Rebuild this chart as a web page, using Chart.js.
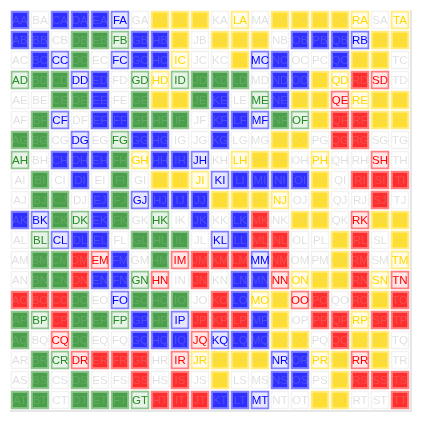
<!DOCTYPE html>
<html>
<head>
<meta charset="utf-8">
<script src="https://cdn.jsdelivr.net/npm/chart.js@4.4.0/dist/chart.umd.min.js"></script>
<style>
  body { margin: 0; background: #fff; }
  #wrap { width: 422px; height: 422px; }
</style>
</head>
<body>
<div id="wrap"><canvas id="gridChart"></canvas></div>
<script>
// columns (x) and rows (y), cell label = column + row
var cols = 'ABCDEFGHIJKLMNOPQRST'.split('');
var rows = 'ABCDEFGHIJKLMNOPQRST'.split('');

// one string per row: . empty, b/g/y/r filled, B/G/Y/R end cell
var grid = [
  'b.bbbB.yyy.Y.yyyyY.Y',
  'bb.ggGbby.yyy.bbbByy',
  '.bBg.BbbY..yBb..byy.',
  'GggBb.GYGggg.bbyYrR.',
  '..ggb.gyygb.GbyyRYyy',
  '.gB.bbggg.bbBgGyrryy',
  'gg.B.Gbb..b..yy.rr..',
  'G.bbbgYbbB.Yyy.Y..R.',
  '.g.b.g.yyYBbbbby.rrr',
  '.gg.bgBbbbyyyY.y..r.',
  'bBgGbg.G.b.br.yy.Ryy',
  '.GBbb.ggg.Bbrr..yr.y',
  '.ggrRb.gRrrrBr..yr.Y',
  '.ggrbbGR.r.bbRYyyrYR',
  'rrrg.Bggg.rbYyRr.ryr',
  'gGrggGbgBrrrby.rrYrr',
  'g.Rg..bbbRBbbyy.ryy.',
  '.gGRrrr.RYyyyBbYyRy.',
  '.g.g..r.r.y..bb.yrrr',
  'gg.gggGrrrbbB..yy..r'
];

var rgb = { b: '0,0,255', g: '34,139,34', y: '255,215,0', r: '255,0,0' };

function cellFill(s) {
  if (s === '.') return 'rgba(255,255,255,1)';
  var k = s.toLowerCase();
  return s === k ? 'rgba(' + rgb[k] + ',0.82)' : 'rgba(' + rgb[k] + ',0.1)';
}
function cellBorder(s) {
  if (s === '.') return 'rgba(0,0,0,0.05)';
  return 'rgba(' + rgb[s.toLowerCase()] + ',0.5)';
}

var labelPlugin = {
  id: 'cellLabels',
  beforeDatasetsDraw: function (chart) {
    // light frame on the right and bottom edges
    var ctx = chart.ctx, a = chart.chartArea;
    ctx.save();
    ctx.strokeStyle = '#e6e6e6';
    ctx.lineWidth = 2;
    ctx.beginPath();
    ctx.moveTo(a.right + 1, a.top);
    ctx.lineTo(a.right + 1, a.bottom + 2);
    ctx.moveTo(a.left, a.bottom + 1);
    ctx.lineTo(a.right + 2, a.bottom + 1);
    ctx.stroke();
    ctx.restore();
  },
  afterDatasetsDraw: function (chart) {
    var ctx = chart.ctx, x = chart.scales.x, y = chart.scales.y;
    ctx.save();
    ctx.font = '11.5px "Liberation Sans", Arial, sans-serif';
    ctx.textAlign = 'center';
    ctx.textBaseline = 'middle';
    rows.forEach(function (r, j) {
      cols.forEach(function (c, i) {
        var s = grid[j][i];
        if (s === '.') ctx.fillStyle = 'rgba(0,0,0,0.13)';
        else if (s === s.toLowerCase()) ctx.fillStyle = 'rgba(200,200,200,0.2)';
        else ctx.fillStyle = 'rgb(' + rgb[s.toLowerCase()] + ')';
        ctx.fillText(c + r, x.getPixelForValue(i), y.getPixelForValue(j + 0.5) + 1);
      });
    });
    ctx.restore();
  }
};

var ctxG = document.getElementById('gridChart').getContext('2d');
var myGridChart = new Chart(ctxG, {
  type: 'bar',
  data: {
    labels: cols,
    datasets: rows.map(function (r, j) {
      return {
        label: r,
        data: cols.map(function () { return [j + 0.025, j + 0.975]; }),
        backgroundColor: cols.map(function (c, i) { return cellFill(grid[j][i]); }),
        borderColor: cols.map(function (c, i) { return cellBorder(grid[j][i]); }),
        borderWidth: 2,
        borderSkipped: false,
        inflateAmount: 0,
        grouped: false,
        barPercentage: 1,
        categoryPercentage: 0.95
      };
    })
  },
  options: {
    responsive: true,
    maintainAspectRatio: false,
    animation: false,
    layout: { padding: { left: 10, top: 10, right: 12, bottom: 12 } },
    plugins: { legend: { display: false }, tooltip: { enabled: false } },
    scales: {
      x: { display: false },
      y: { display: false, min: 0, max: 20, reverse: true }
    }
  },
  plugins: [labelPlugin]
});
</script>
</body>
</html>
